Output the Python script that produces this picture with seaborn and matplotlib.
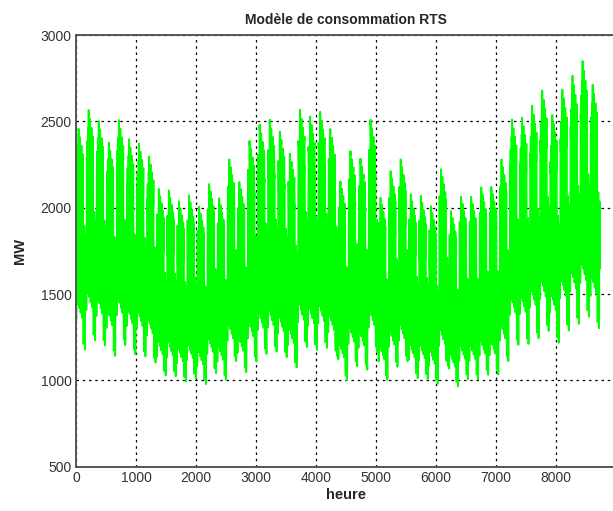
import numpy as np
import pandas as pd
import matplotlib
matplotlib.use("Agg")
import matplotlib.pyplot as plt
import seaborn as sns

# IEEE RTS load model tables
annual_peak = 2850  # MW

# weekly peak, % of annual peak (52 weeks)
weekly_peak = [86.2, 90.0, 87.8, 83.4, 88.0, 84.1, 83.2, 80.6, 74.0, 73.7,
               71.5, 72.7, 70.4, 75.0, 72.1, 80.0, 75.4, 83.7, 87.0, 88.0,
               85.6, 81.1, 90.0, 88.7, 89.6, 86.1, 75.5, 81.6, 80.1, 88.0,
               72.2, 77.6, 80.0, 72.9, 72.6, 70.5, 78.0, 69.5, 72.4, 72.4,
               74.3, 74.4, 80.0, 88.1, 88.5, 90.9, 94.0, 89.0, 94.2, 97.0,
               100.0, 95.2]

# daily peak, % of weekly peak (Mon..Sun)
daily_peak = [93, 100, 98, 96, 94, 77, 75]

# hourly load, % of daily peak (24 hours)
winter_wkdy = [67, 63, 60, 59, 59, 60, 74, 86, 95, 96, 96, 95,
               95, 95, 93, 94, 99, 100, 100, 96, 91, 83, 73, 63]
winter_wknd = [78, 72, 68, 66, 64, 65, 66, 70, 80, 88, 90, 91,
               90, 88, 87, 87, 91, 100, 99, 97, 94, 92, 87, 81]
summer_wkdy = [64, 60, 58, 56, 56, 58, 64, 76, 87, 95, 99, 100,
               99, 100, 100, 97, 96, 96, 93, 92, 92, 93, 87, 72]
summer_wknd = [74, 70, 66, 65, 64, 62, 62, 66, 81, 86, 91, 93,
               93, 92, 91, 91, 92, 94, 95, 95, 100, 93, 88, 80]
spring_wkdy = [63, 62, 60, 58, 59, 65, 72, 85, 95, 99, 100, 99,
               93, 92, 90, 88, 90, 92, 96, 98, 96, 90, 80, 70]
spring_wknd = [75, 73, 69, 66, 65, 65, 68, 74, 83, 89, 92, 94,
               91, 90, 90, 86, 85, 88, 92, 100, 97, 95, 90, 85]

winter_weeks = list(range(1, 9)) + list(range(44, 53))
summer_weeks = list(range(18, 31))

x_ticks = [0, 1000, 2000, 3000, 4000, 5000, 6000, 7000, 8000, 9000]
x_labels = ["0", "1000", "2000", "3000", "4000", "5000", "6000", "7000", "8000", ""]
y_ticks = [500, 1000, 1500, 2000, 2500, 3000]

# build hourly series from the tables
loads = []
for w, wp in enumerate(weekly_peak, start=1):
    if w in winter_weeks:
        prof = (winter_wkdy, winter_wknd)
    elif w in summer_weeks:
        prof = (summer_wkdy, summer_wknd)
    else:
        prof = (spring_wkdy, spring_wknd)
    for d, dp in enumerate(daily_peak):
        hourly = prof[1] if d >= 5 else prof[0]
        for hp in hourly:
            loads.append(annual_peak * wp / 100 * dp / 100 * hp / 100)

df = pd.DataFrame({"heure": np.arange(1, len(loads) + 1), "MW": loads})

sns.set_style("white")
plt.rcParams["font.family"] = ["Liberation Sans", "DejaVu Sans"]

fig = plt.figure(figsize=(6.13, 5.11), dpi=100)
ax = fig.add_axes([76 / 613, 44.3 / 511, 540 / 613, 431.7 / 511])

sns.lineplot(data=df, x="heure", y="MW", ax=ax, color="#00ff00",
             linewidth=1.3, estimator=None, errorbar=None)

ax.set_xlim(0, 9000)
ax.set_ylim(500, 3000)
ax.set_xticks(x_ticks)
ax.set_xticklabels(x_labels)
ax.set_yticks(y_ticks)

# grid below the green trace, as in the reference
ax.set_axisbelow(True)
ax.grid(True, color="black", linestyle=(0, (2, 3)), linewidth=0.9)
for s in ax.spines.values():
    s.set_color("#555555")
    s.set_linewidth(1.4)

ax.tick_params(direction="in", length=4, width=1, colors="#555555",
               labelcolor="#333333", labelsize=10, pad=3)

ax.set_title("Modèle de consommation RTS", fontsize=10, fontweight="bold", pad=8)
ax.set_xlabel("heure", fontsize=10.5, fontweight="bold", labelpad=2)
ax.set_ylabel("MW", fontsize=10.5, fontweight="bold", labelpad=10)

fig.savefig("out.png", dpi=100)
